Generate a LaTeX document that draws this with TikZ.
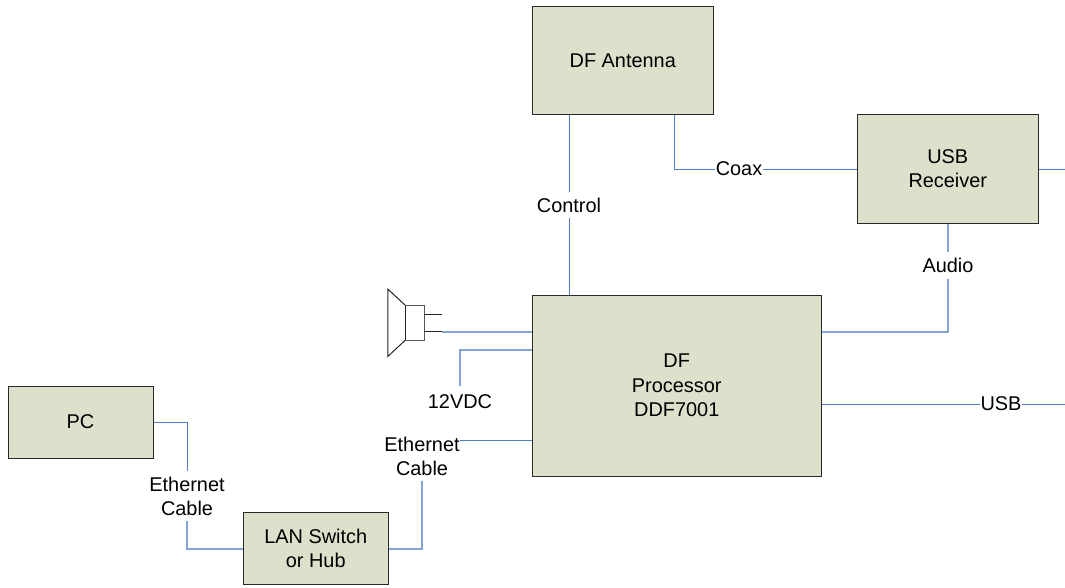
\documentclass[tikz,border=0pt]{standalone}
\usepackage{fontspec}
\setmainfont{Liberation Sans}
\usetikzlibrary{calc}
\definecolor{boxfill}{HTML}{DDE1CB}
\definecolor{wire}{HTML}{4F7FC6}
\definecolor{wirelight}{HTML}{86A5D6}
\definecolor{boxedge}{HTML}{2A2A2A}
\newcommand{\liftup}[1]{\raisebox{1pt}{#1}}
\tikzset{
  x=1pt,y=-1pt,
  txt/.style={font=\fontsize{19.9}{24.2}\selectfont,text=black,align=center},
  blockbox/.style={draw=boxedge,line width=1pt,fill=boxfill,txt,inner sep=0pt},
  tag/.style={txt,inner sep=0pt,outer sep=0pt},
  wireline/.style={draw=wire,line width=1pt},
  wirewide/.style={draw=wirelight,line width=2pt},
  spk/.style={draw=black!85,line width=1pt,line join=miter}
}
\begin{document}
\begin{tikzpicture}
\useasboundingbox (0,0) rectangle (1065,588);
\fill[white] (0,0) rectangle (1065,588);
% blocks
\node[blockbox,minimum width=180.5pt,minimum height=108pt] (ant) at (622.75,61) {\liftup{DF Antenna}};
\node[blockbox,minimum width=180.5pt,minimum height=108pt] (rx) at (947.75,169) {USB\\Receiver};
\node[blockbox,minimum width=288.5pt,minimum height=180.5pt] (proc) at (676.75,385.75) {\liftup{DF}\\\liftup{Processor}\\\liftup{DDF7001}};
\node[blockbox,minimum width=145pt,minimum height=72.5pt] (pc) at (80.5,422.25) {\liftup{PC}};
\node[blockbox,minimum width=144.5pt,minimum height=72pt] (lan) at (315.75,548.5) {\liftup{LAN Switch}\\\liftup{or Hub}};
% labels
\node[tag,minimum height=25pt] (control) at (569,205) {Control};
\node[tag,minimum width=48pt] (coax) at (739,168.5) {Coax};
\node[tag,minimum height=27pt] (audio) at (948,265) {Audio};
\node[tag,minimum width=42pt] (usb) at (1001,403.5) {USB};
\node[tag] (vdc) at (460,402) {12VDC};
\node[tag,minimum height=49.5pt] (eth1) at (187,496) {Ethernet\\Cable};
\node[tag,minimum height=49.5pt] (eth2) at (422,456) {Ethernet\\Cable};
% free ends and bends
\coordinate (coaxbend) at (674,169.5);
\coordinate (rxout) at (1065,169.5);
\coordinate (usbout) at (1065,404.5);
\coordinate (vdctop) at (460,386);
\coordinate (ethend) at (460,440.5);
% connectors
\draw[wireline] (control.north) -- (control.north |- ant.south);
\draw[wireline] (control.south) -- (control.south |- proc.north);
\draw[wireline] (coaxbend |- ant.south) -- (coaxbend) -- (coax.west |- coaxbend);
\draw[wireline] (coax.east |- coaxbend) -- (rx.west |- coaxbend);
\draw[wireline] (rx.east |- rxout) -- (rxout);
\draw[wirewide] (audio.north) -- (audio.north |- rx.south);
\draw[wirewide] (audio.south) -- (audio.south |- 0,332) -- (proc.east |- 0,332);
\draw[wireline] (proc.east |- usbout) -- (usb.west |- usbout);
\draw[wireline] (usb.east |- usbout) -- (usbout);
\draw[wirewide] (proc.west |- 0,350) -- (vdctop |- 0,350) -- (vdctop);
\draw[wireline] (proc.west |- ethend) -- (ethend);
\draw[wireline] (pc.east |- 0,422.5) -- (eth1.north |- 0,422.5) -- (eth1.north);
\draw[wirewide] (eth1.south) -- (eth1.south |- lan.west) -- (lan.west);
\draw[wirewide] (lan.east) -- (lan.east -| eth2.south) -- (eth2.south);
% speaker
\coordinate (spka) at (405.5,305.5);
\coordinate (spkb) at (424,340);
\coordinate (spkout) at (442,331.5);
\draw[spk] (spka) -- (387.75,289) -- (387.75,356.5) -- (spka |- spkb);
\draw[spk,draw=black!65] (spka) rectangle (spkb);
\draw[spk,line width=1.3pt] (spka) -- (spka |- spkb);
\draw[spk] (424,314) -- (442,314);
\draw[spk] (424,331.5) -- (spkout);
\draw[wirewide] (spkout) -- (proc.west |- spkout);
\end{tikzpicture}
\end{document}
